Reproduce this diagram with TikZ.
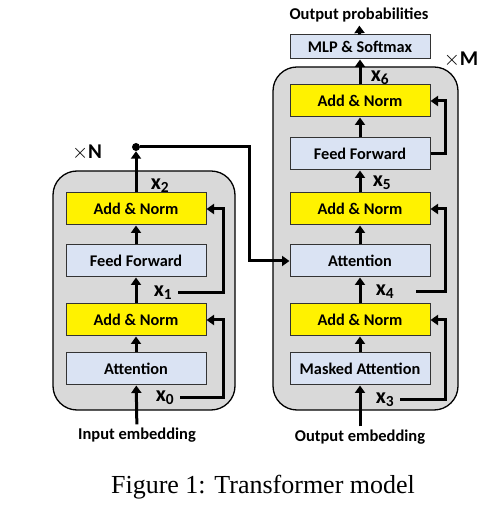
\documentclass[tikz,border=0pt]{standalone}
\usepackage{fontspec}
\setmainfont{Carlito}
\newfontfamily\capfont{Liberation Serif}
\usetikzlibrary{arrows.meta,positioning}
\definecolor{sublayerblue}{HTML}{DAE3F3}

\begin{document}
\begin{tikzpicture}[x=1pt,y=1pt,node distance=20pt,>={Triangle[width=10pt,length=7.5pt]}]
  \tikzstyle{sublayer}=[rectangle,draw=black!80,line width=1pt,fill=sublayerblue,
                        minimum width=140pt,minimum height=32pt,inner sep=0pt,font=\fontsize{16.3}{18}\selectfont\bfseries]
  \tikzstyle{addnorm}=[sublayer,fill=yellow]
  \tikzstyle{stack}=[rounded corners=24pt,draw=black,line width=1.3pt,fill=black!15]
  \tikzstyle{flow}=[->,line width=3pt]
  \tikzstyle{tag}=[font=\fontsize{16.5}{18}\selectfont\bfseries]
  \tikzstyle{xvar}=[font=\fontsize{22}{24}\selectfont\bfseries,inner sep=0pt]

  \useasboundingbox (0,0) rectangle (491,506);

  % Encoder and decoder stacks.
  \draw[stack] (53,96) rectangle (235,335);
  \draw[stack] (273,96) rectangle (458,439);

  % Encoder.
  \node [sublayer] (attL) at (136,137) {Attention};
  \node [addnorm] (an1L) [above=16pt of attL] {Add \& Norm};
  \node [sublayer] (ffL) [above=26pt of an1L] {Feed Forward};
  \node [addnorm] (an2L) [above=19pt of ffL] {Add \& Norm};

  % Decoder.
  \node [sublayer] (maR) at (360,137) {Masked Attention};
  \node [addnorm] (an1R) [above=16pt of maR] {Add \& Norm};
  \node [sublayer] (attR) [above=26pt of an1R] {Attention};
  \node [addnorm] (an2R) [above=19pt of attR] {Add \& Norm};
  \node [sublayer] (ffR) [above=22pt of an2R] {Feed Forward};
  \node [addnorm] (an3R) [above=20pt of ffR] {Add \& Norm};
  \node [sublayer,minimum height=24pt] (mlp) [above=25pt of an3R] {MLP \& Softmax};

  % Inputs and outputs.
  \node [tag] (inL) at (137,71) {Input embedding};
  \node [tag] (inR) at (360,69) {Output embedding};
  \node [tag] (outR) at (359,491) {Output probabilities};

  \node [xvar] (x0) at (165,108) {x\textsubscript{0}};
  \node [xvar] (x1) at (163,213) {x\textsubscript{1}};
  \node [xvar] (x2) at (160,320) {x\textsubscript{2}};
  \node [xvar] (x3) at (385,106) {x\textsubscript{3}};
  \node [xvar] (x4) at (385,214) {x\textsubscript{4}};
  \node [xvar] (x5) at (382,323) {x\textsubscript{5}};
  \node [xvar] (x6) at (380,428) {x\textsubscript{6}};

  \node [font=\fontsize{21}{24}\selectfont] (nL) at (87,353) {$\times$\textbf{N}};
  \node [font=\fontsize{21}{24}\selectfont] (mR) at (461,446) {$\times$\textbf{M}};

  \node [circle,fill=black,inner sep=0pt,minimum size=8pt] (split) at (136,359) {};
  \coordinate (rL) at (223,0);
  \coordinate (rR) at (445,0);
  \coordinate (cross) at (249,0);

  % Main paths.
  \draw[flow] (inL) -- (attL);
  \draw[flow] (attL) -- (an1L);
  \draw[flow] (an1L) -- (ffL);
  \draw[flow] (ffL) -- (an2L);
  \draw[flow] (an2L) -- (split);
  \draw[flow] (split) -- (split -| cross) |- (attR);

  \draw[flow] (inR) -- (maR);
  \draw[flow] (maR) -- (an1R);
  \draw[flow] (an1R) -- (attR);
  \draw[flow] (attR) -- (an2R);
  \draw[flow] (an2R) -- (ffR);
  \draw[flow] (ffR) -- (an3R);
  \draw[flow] (an3R) -- (mlp);
  \draw[flow] (mlp) -- (outR);

  % Residual connections.
  \draw[flow] (x0.east) ++(6,0) -| (an1L.east -| rL) -- (an1L);
  \draw[flow] (x1.east) ++(6,0) -| (an2L.east -| rL) -- (an2L);
  \draw[flow] (x3.east) ++(6,0) -| (an1R.east -| rR) -- (an1R);
  \draw[flow] (x4.east) ++(22,0) -| (an2R.east -| rR) -- (an2R);
  \draw[flow] (ffR.east) -| (an3R.east -| rR) -- (an3R);

  \node [font=\capfont\fontsize{26}{28}\selectfont] (cap) at (263,19) {Figure 1: Transformer model};
\end{tikzpicture}
\end{document}
